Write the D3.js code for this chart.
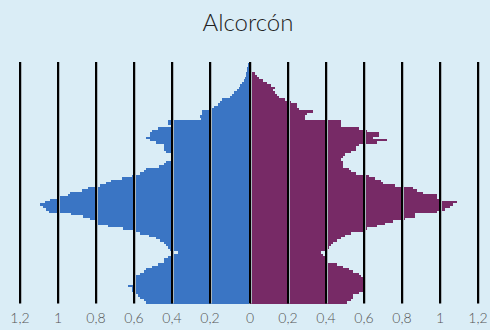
<!DOCTYPE html>
<html><head><meta charset="utf-8">
<script src="https://cdn.jsdelivr.net/npm/d3@7"></script>
<style>html,body{margin:0;padding:0;background:#daedf6;} svg{display:block}</style>
</head><body>
<svg id="c" width="490" height="330"></svg>
<script>
const title = "Alcorcón";
// ages 0..100 (single years), values in % of total population
const ages = d3.range(0, 101);
const males = [
0.537,0.547,0.568,0.58,0.589,0.61,0.61,0.632,0.6,0.6,
0.6,0.589,0.568,0.55,0.537,0.505,0.474,0.442,0.442,0.421,
0.40,0.368,0.411,0.42,0.432,0.442,0.463,0.484,0.52,0.568,
0.6,0.66,0.737,0.79,0.8,0.83,0.87,0.93,1.05,1.063,
1.08,1.095,1.07,1.04,0.989,0.947,0.935,0.874,0.842,0.779,
0.747,0.72,0.665,0.61,0.568,0.55,0.537,0.47,0.442,0.432,
0.40,0.40,0.39,0.432,0.442,0.442,0.442,0.484,0.516,0.537,
0.516,0.516,0.505,0.474,0.39,0.42,0.42,0.25,0.253,0.242,
0.242,0.195,0.179,0.158,0.147,0.137,0.095,0.084,0.074,0.058,
0.050,0.042,0.032,0.021,0.016,0.011,0.008,0.006,0.004,0,
0];
const females = [
0.509,0.53,0.54,0.54,0.572,0.593,0.604,0.604,0.604,0.604,
0.593,0.583,0.572,0.54,0.519,0.488,0.456,0.404,0.404,0.393,
0.383,0.372,0.404,0.414,0.425,0.435,0.456,0.477,0.498,0.53,
0.604,0.614,0.667,0.709,0.751,0.814,0.867,0.867,0.983,1.025,
1.05,1.067,1.088,1.0,0.983,0.983,0.909,0.88,0.856,0.762,
0.7,0.688,0.656,0.625,0.56,0.53,0.52,0.488,0.488,0.488,
0.477,0.488,0.5,0.53,0.56,0.56,0.572,0.667,0.72,0.646,
0.677,0.677,0.614,0.572,0.477,0.477,0.477,0.288,0.288,0.3,
0.33,0.256,0.246,0.246,0.214,0.183,0.15,0.14,0.13,0.12,
0.13,0.109,0.088,0.067,0.046,0.035,0.025,0.013,0.013,0.013,
0.013];
const tickValues = [0, 0.2, 0.4, 0.6, 0.8, 1, 1.2];

const svg = d3.select("#c");
svg.append("rect").attr("width", 490).attr("height", 330).attr("fill", "#daedf6");

const y = d3.scaleBand().domain(ages.slice().reverse()).range([62.7, 303.7]).padding(0);
const xL = d3.scaleLinear().domain([0, 1.2]).range([248, 20]);
const xR = d3.scaleLinear().domain([0, 1.2]).range([250, 478]);
const fmt = v => d3.format("~g")(v).replace(".", ",");

// bars
svg.append("g").selectAll("rect").data(ages).join("rect")
  .attr("x", d => xL(males[d]))
  .attr("y", d => y(d))
  .attr("width", d => 249 - xL(males[d]))
  .attr("height", y.bandwidth())
  .attr("fill", "#3a75c4")
  .attr("shape-rendering", "crispEdges");
svg.append("g").selectAll("rect").data(ages).join("rect")
  .attr("x", 250)
  .attr("y", d => y(d))
  .attr("width", d => xR(females[d]) - 250)
  .attr("height", y.bandwidth())
  .attr("fill", "#772a66")
  .attr("shape-rendering", "crispEdges");

// grid lines (drawn over bars)
const gx = tickValues.filter(t => t > 0).map(t => xL(t)).concat(tickValues.map(t => xR(t)));
const grid = svg.append("g");
grid.selectAll("line.s").data(gx).join("line").attr("class", "s")
  .attr("x1", d => d + 1.5).attr("x2", d => d + 1.5)
  .attr("y1", 62).attr("y2", 303.5)
  .attr("stroke", "#a8b4ba").attr("stroke-width", 1);
grid.selectAll("line.g").data(gx).join("line").attr("class", "g")
  .attr("x1", d => d).attr("x2", d => d)
  .attr("y1", 62).attr("y2", 303.5)
  .attr("stroke", "#000").attr("stroke-width", 2);

// tick labels
const labels = svg.append("g").attr("font-family", "Lato, 'Open Sans', sans-serif")
  .attr("font-size", 14).attr("font-weight", 300).attr("fill", "#555").attr("text-anchor", "middle");
labels.selectAll("text.l").data(tickValues.filter(t => t > 0)).join("text").attr("class", "l")
  .attr("x", d => xL(d)).attr("y", 323).text(fmt);
labels.selectAll("text.r").data(tickValues).join("text").attr("class", "r")
  .attr("x", d => xR(d)).attr("y", 323).text(fmt);

// title
svg.append("text").attr("x", 248).attr("y", 31).attr("text-anchor", "middle")
  .attr("font-family", "Lato, 'Open Sans', sans-serif").attr("font-size", 24)
  .attr("font-weight", 300).attr("fill", "#222").text(title);
</script>
</body></html>
